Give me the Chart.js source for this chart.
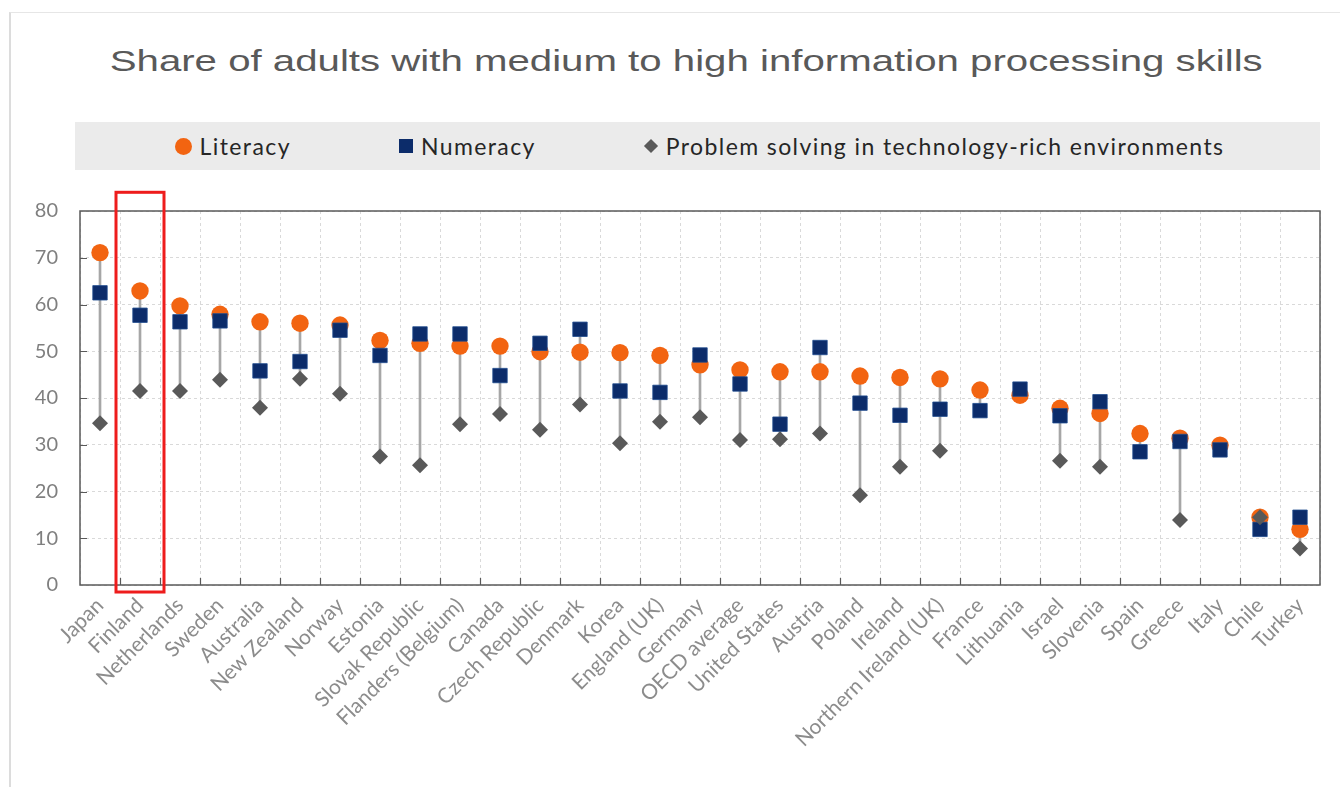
<!DOCTYPE html>
<html><head><meta charset="utf-8">
<script src="https://cdn.jsdelivr.net/npm/chart.js@4"></script>
<style>
html,body{margin:0;padding:0;background:#fff;}
body{width:1340px;height:787px;position:relative;overflow:hidden;}
#frame{position:absolute;left:9px;top:12px;right:-4px;bottom:-4px;border-left:2px solid #dcdcdc;border-top:1px solid #e6e6e6;}
#title{position:absolute;left:33px;right:0;top:46px;text-align:center;font-family:"Liberation Sans",Arial,sans-serif;font-size:30px;line-height:30px;color:#595959;white-space:nowrap;}
#title span{display:inline-block;transform-origin:50% 50%;}
#legend{position:absolute;left:75px;top:122px;width:1245px;height:48px;background:#ebebeb;display:flex;justify-content:center;align-items:center;gap:108px;font-family:Lato,sans-serif;font-size:23px;color:#262626;letter-spacing:1.4px;padding-left:4px;box-sizing:border-box;}
.item{display:flex;align-items:center;gap:8px;white-space:nowrap;}
.mk{display:inline-block;}
canvas{position:absolute;left:0;top:0;}
</style></head><body>
<div id="frame"></div>
<div id="title"><span id="titleText"></span></div>
<div id="legend"></div>
<canvas id="c" width="1340" height="787"></canvas>
<script>
const titleText = 'Share of adults with medium to high information processing skills';
const seriesNames = ['Literacy', 'Numeracy', 'Problem solving in technology-rich environments'];
const categories = ['Japan','Finland','Netherlands','Sweden','Australia','New Zealand','Norway','Estonia','Slovak Republic','Flanders (Belgium)','Canada','Czech Republic','Denmark','Korea','England (UK)','Germany','OECD average','United States','Austria','Poland','Ireland','Northern Ireland (UK)','France','Lithuania','Israel','Slovenia','Spain','Greece','Italy','Chile','Turkey'];
const literacy = [71.1,62.9,59.7,57.9,56.3,56.0,55.6,52.3,51.7,51.1,51.1,49.9,49.8,49.7,49.1,47.1,46.0,45.6,45.6,44.7,44.4,44.1,41.7,40.6,37.8,36.7,32.4,31.4,29.9,14.5,11.9];
const numeracy = [62.5,57.7,56.3,56.5,45.8,47.8,54.5,49.1,53.7,53.7,44.8,51.7,54.7,41.5,41.2,49.2,43.0,34.4,50.8,38.9,36.3,37.6,37.3,41.9,36.2,39.2,28.5,30.7,28.9,11.9,14.5];
const problemSolving = [34.6,41.5,41.5,43.9,37.9,44.1,40.9,27.5,25.6,34.4,36.6,33.2,38.6,30.3,34.9,35.9,31.0,31.2,32.4,19.2,25.3,28.7,null,null,26.6,25.3,null,13.9,null,14.5,7.8];
const yTicks = [0,10,20,30,40,50,60,70,80];
const highlighted = 'Finland';

const COLORS = { literacy:'#f26411', numeracy:'#0c2c6a', problem:'#595959', range:'#a6a6a6', grid:'#d9d9d9', frame:'#595959', highlight:'#ee1c1c' };

// connecting range for each category, built from the series arrays
const ranges = categories.map((_, i) => {
  const v = [literacy[i], numeracy[i], problemSolving[i]].filter(x => x != null);
  return [Math.min(...v), Math.max(...v)];
});

// title
const tEl = document.getElementById('titleText');
tEl.textContent = titleText;

// legend (HTML)
const legendDefs = [
  { name: seriesNames[0], css: `width:17px;height:17px;border-radius:50%;background:${COLORS.literacy};` },
  { name: seriesNames[1], css: `width:14px;height:14px;background:${COLORS.numeracy};` },
  { name: seriesNames[2], css: `width:10px;height:10px;background:${COLORS.problem};transform:rotate(45deg);margin:0 2px;` }
];
const lg = document.getElementById('legend');
legendDefs.forEach(d => {
  const it = document.createElement('div'); it.className = 'item';
  const m = document.createElement('span'); m.className = 'mk'; m.style.cssText = d.css;
  const t = document.createElement('span'); t.textContent = d.name;
  it.appendChild(m); it.appendChild(t); lg.appendChild(it);
});

const decor = {
  id: 'decor',
  beforeDatasetsDraw(chart) {
    const { ctx, chartArea: a, scales: { x, y } } = chart;
    ctx.save();
    ctx.strokeStyle = COLORS.frame;
    ctx.lineWidth = 1.5;
    ctx.strokeRect(a.left, a.top, a.right - a.left, a.bottom - a.top);
    ctx.lineWidth = 1.2;
    ctx.beginPath();
    yTicks.slice(1, -1).forEach(v => {
      const py = Math.round(y.getPixelForValue(v)) + 0.5;
      ctx.moveTo(a.left, py); ctx.lineTo(a.left + 7, py);
    });
    for (let i = 1; i < categories.length; i++) {
      const px = Math.round((x.getPixelForValue(i - 1) + x.getPixelForValue(i)) / 2) + 0.5;
      ctx.moveTo(px, a.bottom); ctx.lineTo(px, a.bottom - 7);
    }
    ctx.stroke();
    ctx.restore();
  },
  afterDatasetsDraw(chart) {
    const { ctx, scales: { x, y } } = chart;
    const i = categories.indexOf(highlighted);
    if (i < 0) return;
    const step = x.getPixelForValue(1) - x.getPixelForValue(0);
    const cx = x.getPixelForValue(i);
    const top = y.getPixelForValue(84);
    const bottom = y.getPixelForValue(-1.5);
    ctx.save();
    ctx.strokeStyle = COLORS.highlight;
    ctx.lineWidth = 3;
    ctx.strokeRect(cx - step * 0.6, top, step * 1.2, bottom - top);
    ctx.restore();
  }
};

function draw() {
  // stretch the title to the reference width
  const w = tEl.getBoundingClientRect().width;
  tEl.style.transform = `scaleX(${1153 / w})`;

  new Chart(document.getElementById('c'), {
    type: 'bar',
    data: {
      labels: categories,
      datasets: [
        { type: 'line', label: seriesNames[0], data: literacy, showLine: false, pointStyle: 'circle', pointRadius: 8.7, pointBackgroundColor: COLORS.literacy, pointBorderColor: COLORS.literacy, pointBorderWidth: 0, order: 2 },
        { type: 'line', label: seriesNames[1], data: numeracy, showLine: false, pointStyle: 'rect', pointRadius: 10.2, pointBackgroundColor: COLORS.numeracy, pointBorderColor: '#1f4b8e', pointBorderWidth: 0.8, order: 1 },
        { type: 'line', label: seriesNames[2], data: problemSolving, showLine: false, pointStyle: 'rectRot', pointRadius: 8, pointBackgroundColor: COLORS.problem, pointBorderColor: COLORS.problem, pointBorderWidth: 0, order: 0 },
        { type: 'bar', label: 'range', data: ranges, backgroundColor: COLORS.range, barThickness: 2, borderWidth: 0, order: 3 }
      ]
    },
    options: {
      responsive: false,
      animation: false,
      devicePixelRatio: 1,
      layout: { padding: { top: 211, right: 20, bottom: 0, left: 0 } },
      plugins: { legend: { display: false }, title: { display: false }, tooltip: { enabled: false } },
      scales: {
        x: {
          offset: true,
          grid: { offset: true, color: COLORS.grid, lineWidth: 1, drawTicks: false },
          border: { display: false, dash: [3, 3] },
          ticks: { autoSkip: false, maxRotation: 45, minRotation: 45, color: '#8c8c8c', font: { family: 'Lato', size: 21 }, padding: 8 },
          afterFit(s) { s.height = 202; }
        },
        y: {
          min: 0, max: 80,
          afterBuildTicks(s) { s.ticks = yTicks.map(v => ({ value: v })); },
          grid: { color: COLORS.grid, lineWidth: 1, drawTicks: false },
          border: { display: false, dash: [3, 3] },
          ticks: { color: '#7f7f7f', font: { family: 'Lato', size: 20 }, padding: 22 },
          afterFit(s) { s.width = 80; }
        }
      }
    },
    plugins: [decor]
  });
}
if (document.fonts && document.fonts.load) {
  Promise.all([document.fonts.load('21px Lato'), document.fonts.load('30px "Liberation Sans"')]).then(draw, draw);
} else { draw(); }
</script>
</body></html>
